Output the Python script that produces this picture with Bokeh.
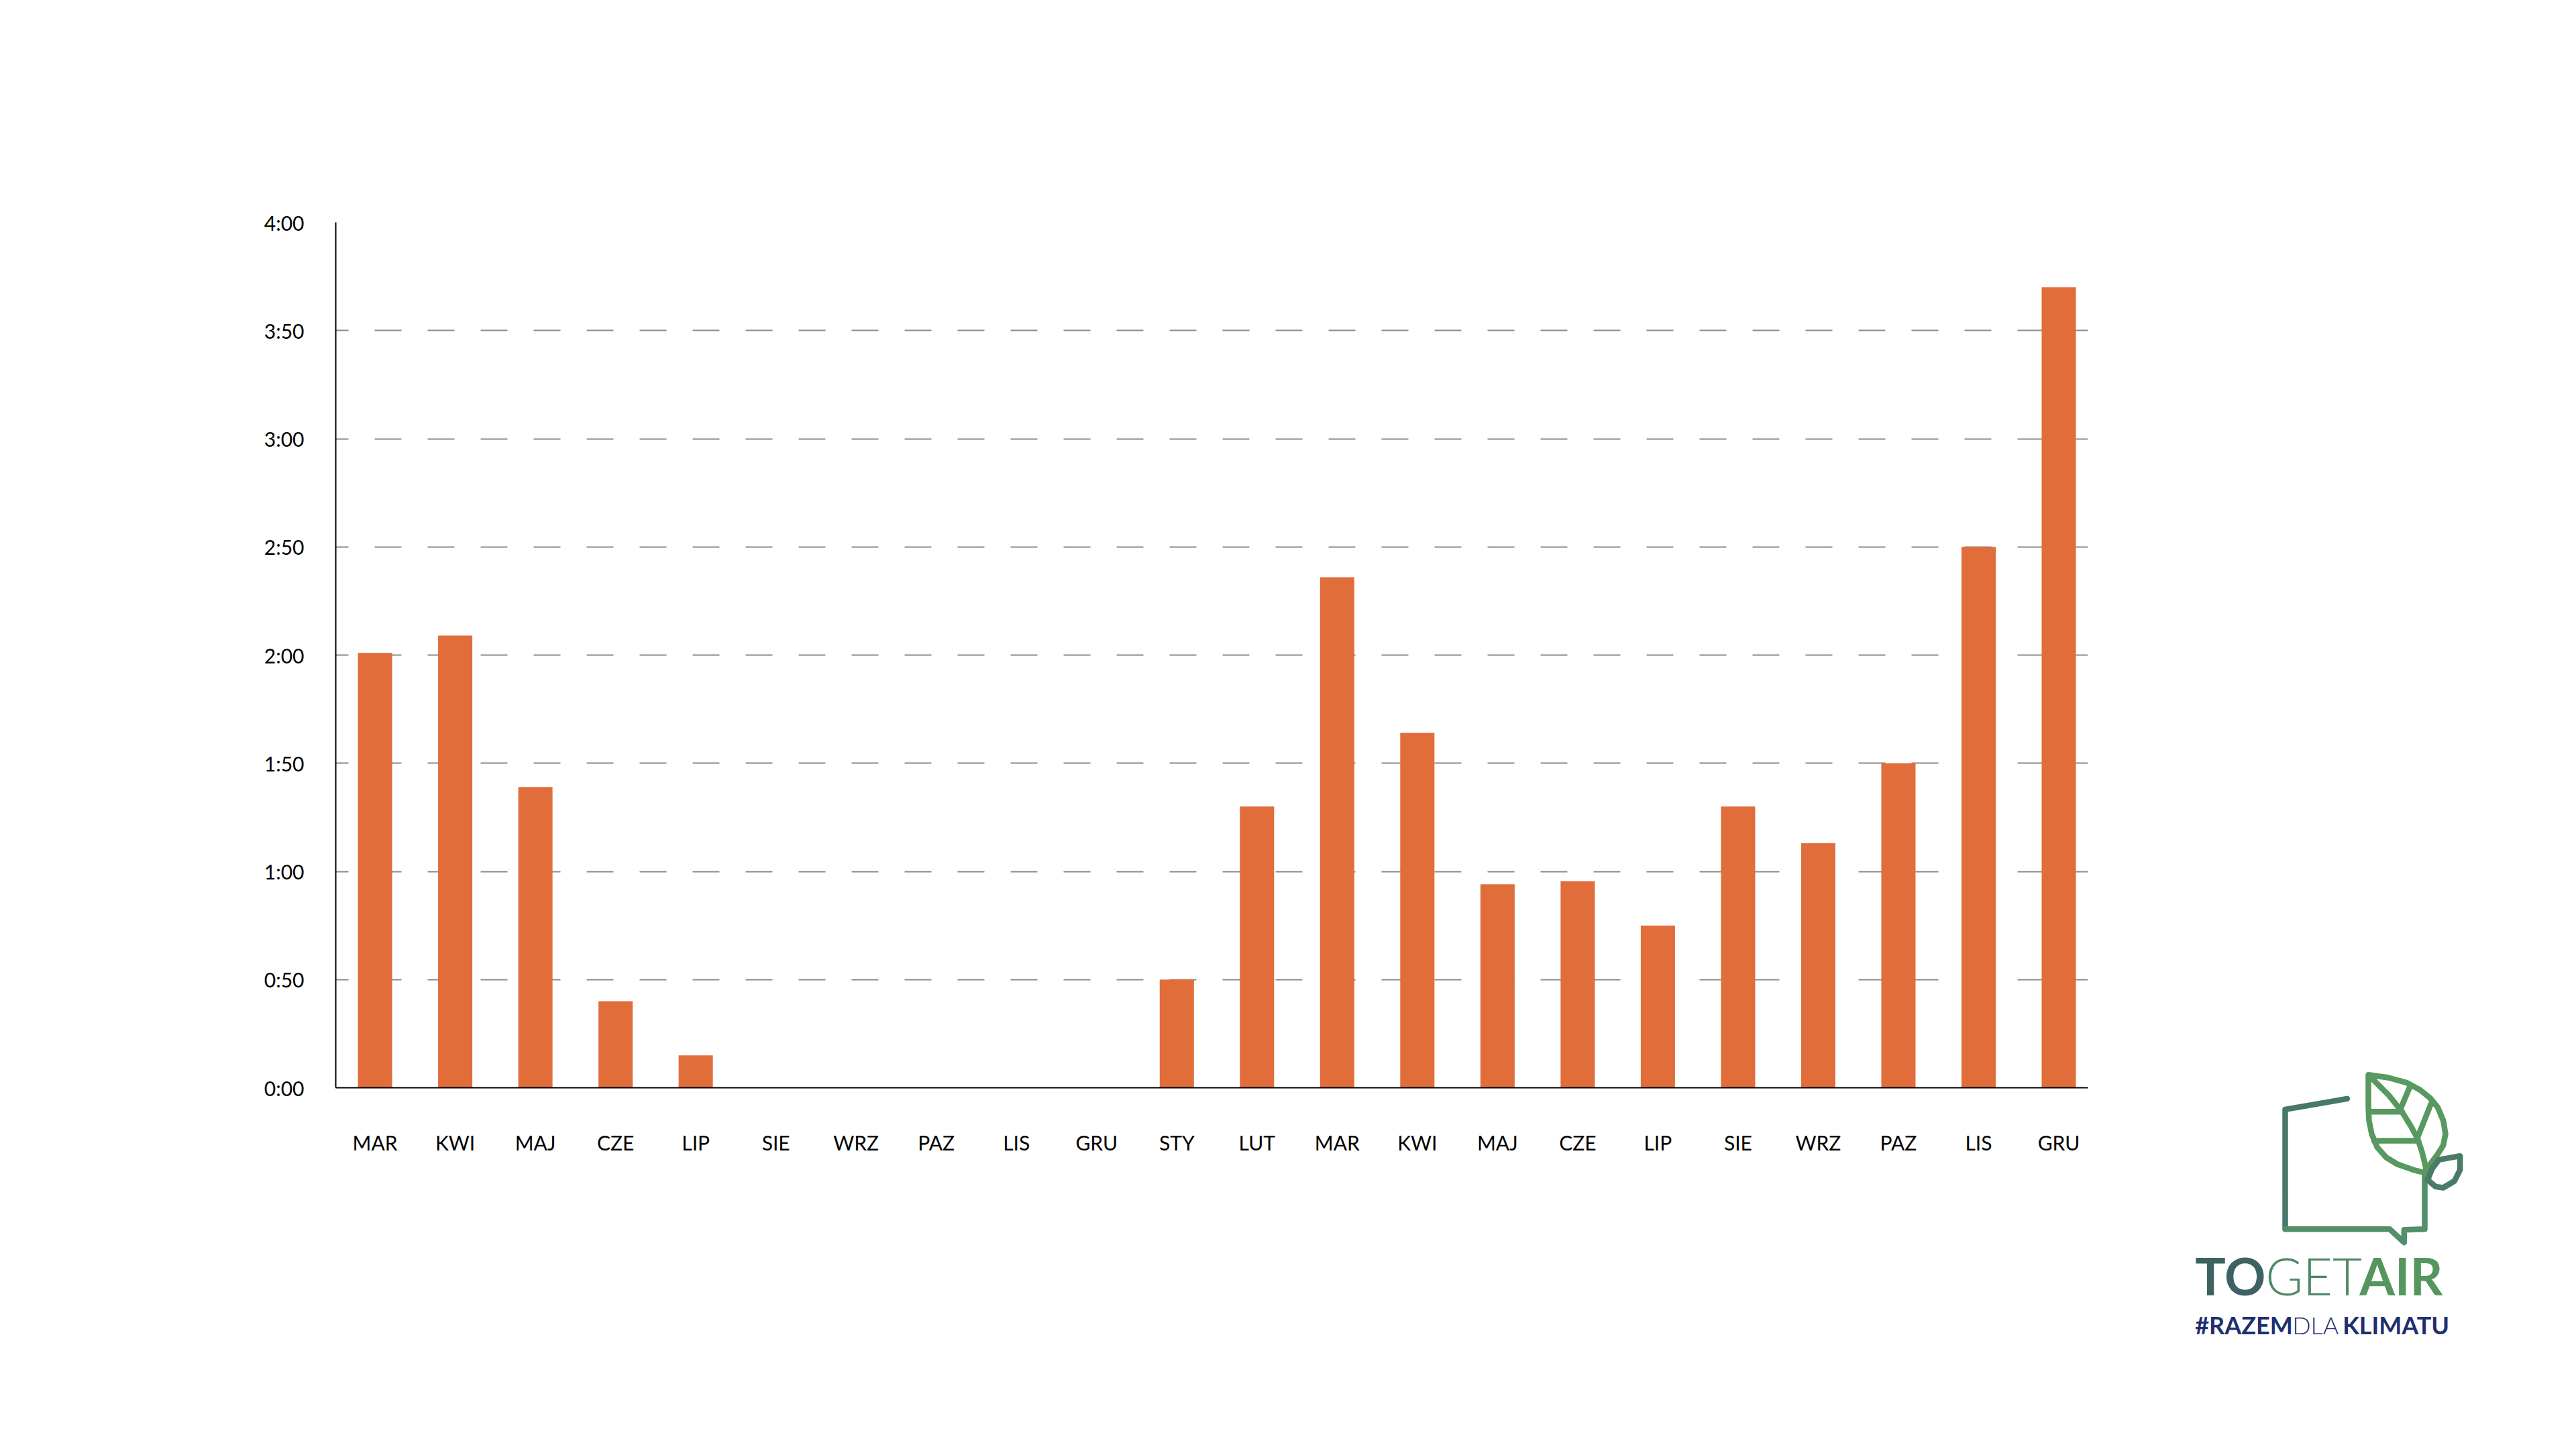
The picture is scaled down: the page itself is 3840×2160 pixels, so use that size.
from bokeh.plotting import figure
from bokeh.models import Range1d, FixedTicker, Spacer, ColumnDataSource
from bokeh.layouts import row, column
from bokeh.embed import file_html
from bokeh.resources import INLINE
from bokeh.core.properties import value

# ---------------- data ----------------
months = ["MAR", "KWI", "MAJ", "CZE", "LIP", "SIE", "WRZ", "PAZ", "LIS", "GRU",
          "STY", "LUT", "MAR", "KWI", "MAJ", "CZE", "LIP", "SIE", "WRZ", "PAZ", "LIS", "GRU"]
hours = [2.01, 2.09, 1.39, 0.40, 0.15, 0.0, 0.0, 0.0, 0.0, 0.0,
         0.50, 1.30, 2.36, 1.64, 0.94, 0.955, 0.75, 1.30, 1.13, 1.50, 2.50, 3.70]
y_ticks = [0, 0.5, 1, 1.5, 2, 2.5, 3, 3.5, 4]
y_tick_labels = ["0:00", "0:50", "1:00", "1:50", "2:00", "2:50", "3:00", "3:50", "4:00"]
grid_ticks = [0.5, 1, 1.5, 2, 2.5, 3, 3.5]

BAR = "#E16D3B"
FONT = "Lato"

idx = list(range(len(months)))
src = ColumnDataSource(dict(x=idx, top=hours, month=months))

W, H = 3250, 2144
p = figure(width=W, height=H,
           x_range=Range1d(-0.49, 21.364), y_range=Range1d(0, 4.0),
           output_backend="svg", toolbar_location=None,
           min_border_left=500, min_border_right=W - 3112,
           min_border_top=331, min_border_bottom=H - 331 - 1290)
p.background_fill_color = "white"
p.border_fill_color = "white"
p.outline_line_color = None

p.vbar(x="x", top="top", bottom=0, width=0.427, source=src,
       fill_color=BAR, line_color=None)

# x axis
p.xaxis.ticker = FixedTicker(ticks=idx)
p.xaxis.major_label_overrides = {i: m for i, m in zip(idx, months)}
p.xaxis.major_tick_line_color = None
p.xaxis.minor_tick_line_color = None
p.xaxis.major_tick_out = 0
p.xaxis.major_tick_in = 0
p.xaxis.minor_tick_out = 0
p.xaxis.axis_line_color = "black"
p.xaxis.axis_line_width = 2
p.xaxis.major_label_text_font = FONT
p.xaxis.major_label_text_font_size = "30px"
p.xaxis.major_label_text_color = "black"
p.xaxis.major_label_standoff = 63

# y axis
p.yaxis.ticker = FixedTicker(ticks=y_ticks)
p.yaxis.major_label_overrides = {t: l for t, l in zip(y_ticks, y_tick_labels)}
p.yaxis.major_tick_line_color = None
p.yaxis.minor_tick_line_color = None
p.yaxis.major_tick_out = 0
p.yaxis.major_tick_in = 0
p.yaxis.minor_tick_out = 0
p.yaxis.axis_line_color = "black"
p.yaxis.axis_line_width = 2
p.yaxis.major_label_text_font = FONT
p.yaxis.major_label_text_font_size = "30px"
p.yaxis.major_label_text_color = "black"
p.yaxis.major_label_standoff = 47

# grid
p.xgrid.visible = False
p.ygrid.ticker = FixedTicker(ticks=grid_ticks)
p.ygrid.grid_line_color = "#8A8A8A"
p.ygrid.grid_line_width = 2
p.ygrid.grid_line_dash = "40 39"
p.ygrid.grid_line_dash_offset = 21

# ---------------- logo (decoration) ----------------
lp = figure(width=450, height=430, x_range=Range1d(0, 1350), y_range=Range1d(1380, 90),
            output_backend="svg", toolbar_location=None, min_border=0,
            x_axis_location=None, y_axis_location=None)
lp.outline_line_color = None
lp.grid.visible = False
lp.background_fill_color = "white"
lp.border_fill_color = "white"

LW = 8.5
bubble_x = [745, 468, 468, 935, 1000, 1000, 1092, 1092]
bubble_y = [262, 310, 845, 845, 905, 848, 845, 600]
lp.line(bubble_x[:3], bubble_y[:3], line_width=LW, line_color="#47786A",
        line_join="round", line_cap="round")
lp.line(bubble_x[2:], bubble_y[2:], line_width=LW, line_color="#51906A",
        line_join="round", line_cap="round")

leaf_x = [840, 930, 1010, 1070, 1115, 1150, 1175, 1185, 1175, 1150, 1120, 1100,
          1040, 970, 920, 880, 855, 843, 840, 840]
leaf_y = [155, 168, 190, 222, 258, 300, 360, 420, 470, 510, 550, 595,
          580, 555, 525, 480, 420, 360, 300, 155]
lp.patch(leaf_x, leaf_y, fill_color=None, line_color="#57995F", line_width=LW,
         line_join="round")
lp.multi_line(
    xs=[[855, 930, 990, 1030, 1060, 1080, 1095, 1100], [843, 990], [865, 1060],
        [985, 1025], [1060, 1120]],
    ys=[[170, 245, 320, 385, 440, 500, 560, 600], [320, 320], [450, 450],
        [305, 210], [435, 285]],
    line_color="#57995F", line_width=LW, line_cap="round", line_join="round")
small_x = [1105, 1125, 1155, 1250, 1250, 1225, 1175, 1140, 1105]
small_y = [625, 575, 535, 518, 580, 630, 660, 655, 625]
lp.patch(small_x, small_y, fill_color=None, line_color="#4A7B66", line_width=LW,
         line_join="round")

def logo_text(x, y, t, color, bold, size):
    lp.text(x=[x], y=[y], text=[t],
            text_font=value("Lato" if bold else "Lato Light, Lato"),
            text_font_style="bold" if bold else "normal",
            text_font_size=size, text_color=color,
            text_align="left", text_baseline="middle")

logo_text(65, 1052, "TO", "#3E6264", True, "76px")
logo_text(380, 1052, "GET", "#4E8866", False, "76px")
logo_text(800, 1052, "AIR", "#55965F", True, "76px")
logo_text(65, 1273, "#RAZEM", "#1D2F6F", True, "36px")
logo_text(500, 1273, "DLA", "#1D2F6F", False, "36px")
logo_text(725, 1273, "KLIMATU", "#1D2F6F", True, "36px")

layout = row(p, column(Spacer(width=450, height=1580), lp))

open("out.html", "w").write(file_html(layout, INLINE))
